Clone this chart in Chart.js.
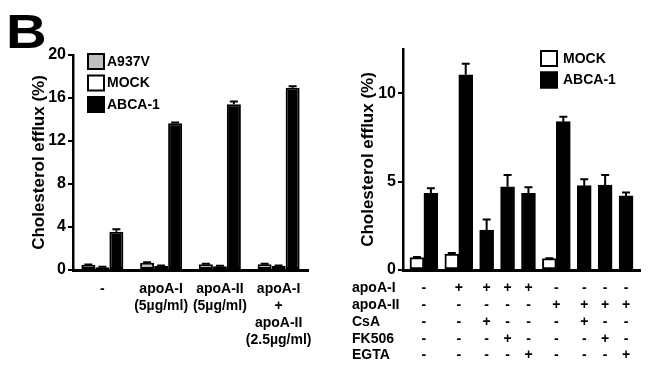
<!DOCTYPE html>
<html>
<head>
<meta charset="utf-8">
<script src="https://cdn.jsdelivr.net/npm/chart.js@4.4.1/dist/chart.umd.min.js"></script>
<style>
  html, body { margin: 0; padding: 0; background: #fff; }
  #wrap { position: relative; width: 654px; height: 373px; overflow: hidden; }
  #leftChart { position: absolute; left: 0; top: 0; }
  #rightChart { position: absolute; left: 330px; top: 0; }
  #panelLetter {
    position: absolute; left: 6px; top: 7px;
    font: bold 49px "Liberation Sans", Arial, sans-serif; line-height: 49px;
    transform: scaleX(1.15); transform-origin: left top;
  }
</style>
</head>
<body>
<div id="wrap">
  <canvas id="leftChart" width="330" height="373"></canvas>
  <canvas id="rightChart" width="324" height="373"></canvas>
  <div id="panelLetter">B</div>
</div>
<script>
// ============================================================
// DATA - left panel
// ============================================================

const groupLabels = [
  ["-"],
  ["apoA-I", "(5µg/ml)"],
  ["apoA-II", "(5µg/ml)"],
  ["apoA-I", "+", "apoA-II", "(2.5µg/ml)"]
];
const leftTicks = [0, 4, 8, 12, 16, 20];

const a937vValues = [0.48, 0.68, 0.53, 0.53];
const a937vErrors = [0.04, 0.04, 0.05, 0.04];
const leftMockValues = [0.26, 0.37, 0.35, 0.38];
const leftMockErrors = [0.04, 0.04, 0.05, 0.05];
const leftAbcaValues = [3.56, 13.64, 15.42, 16.95];
const leftAbcaErrors = [0.22, 0.08, 0.25, 0.15];

// ============================================================
// DATA - right panel
// ============================================================

const rowLabels = ["apoA-I", "apoA-II", "CsA", "FK506", "EGTA"];
const apoAIRow  = ["-", "+", "+", "+", "+", "-", "-", "-", "-"];
const apoAIIRow = ["-", "-", "-", "-", "-", "+", "+", "+", "+"];
const csaRow    = ["-", "-", "+", "-", "-", "-", "+", "-", "-"];
const fk506Row  = ["-", "-", "-", "+", "-", "-", "-", "+", "-"];
const egtaRow   = ["-", "-", "-", "-", "+", "-", "-", "-", "+"];
const rightTicks = [0, 5, 10];

const rightMockValues = [0.70, 0.90, null, null, null, 0.64, null, null, null];
const rightMockErrors = [0.04, 0.06, null, null, null, 0.03, null, null, null];
const rightAbcaValues = [4.34, 11.04, 2.26, 4.71, 4.34, 8.39, 4.77, 4.81, 4.19];
const rightAbcaErrors = [0.28, 0.62, 0.60, 0.66, 0.34, 0.28, 0.36, 0.57, 0.19];

// ============================================================
// SHARED STYLE
// ============================================================

const FONT = '"Liberation Sans", Arial, Helvetica, sans-serif';
Chart.defaults.font.family = FONT;
Chart.defaults.font.weight = "bold";
Chart.defaults.color = "#000";

const errorBarPlugin = {
  id: "errorBars",
  afterDatasetsDraw(chart) {
    const ctx = chart.ctx;
    const yScale = chart.scales.y;
    chart.data.datasets.forEach(function(ds, di) {
      if (!ds.errors) return;
      const meta = chart.getDatasetMeta(di);
      meta.data.forEach(function(bar, i) {
        const raw = ds.data[i];
        const v = raw !== null && typeof raw === "object" ? raw.y : raw;
        const err = ds.errors[i];
        if (v == null || !err) return;
        const yTop = yScale.getPixelForValue(v + err);
        ctx.save();
        ctx.strokeStyle = "#000";
        ctx.lineWidth = 2;
        ctx.beginPath();
        ctx.moveTo(bar.x, bar.y);
        ctx.lineTo(bar.x, yTop);
        ctx.moveTo(bar.x - 4, yTop);
        ctx.lineTo(bar.x + 4, yTop);
        ctx.stroke();
        ctx.restore();
      });
    });
  }
};

const boxLegendPlugin = {
  id: "boxLegend",
  afterDraw(chart, args, opts) {
    const ctx = chart.ctx;
    const area = chart.chartArea;
    ctx.save();
    chart.data.datasets.forEach(function(ds, i) {
      const x = area.left + opts.dx;
      const y = area.top + opts.dy + i * opts.rowGap;
      ctx.fillStyle = ds.backgroundColor;
      ctx.fillRect(x, y, 18, 17);
      ctx.strokeStyle = "#000";
      ctx.lineWidth = 2;
      ctx.strokeRect(x + 1, y + 1, 16, 15);
      ctx.fillStyle = "#000";
      ctx.font = "bold 14px " + FONT;
      ctx.textBaseline = "middle";
      ctx.textAlign = "left";
      ctx.fillText(ds.label, x + 18 + opts.textGap, y + 9);
    });
    ctx.restore();
  }
};

function yAxis(max, ticks, titlePad) {
  return {
    min: 0,
    max: max,
    afterBuildTicks: function(s) { s.ticks = ticks.map(v => ({ value: v })); },
    ticks: { padding: 2, font: { size: 16, weight: "bold" }, color: "#000" },
    grid: { display: true, drawOnChartArea: false, drawTicks: true, tickLength: 5, color: "#000", lineWidth: 2 },
    border: { display: true, color: "#000", width: 2.5 },
    title: {
      display: true, text: "Cholesterol efflux (%)", color: "#000",
      font: { size: 17, weight: "bold" }, padding: { top: titlePad, bottom: 0 }
    },
    afterFit: function(s) { s.width = 73; }
  };
}

// ============================================================
// LEFT PANEL
// ============================================================

new Chart(document.getElementById("leftChart"), {
  type: "bar",
  data: {
    labels: groupLabels,
    datasets: [
      { label: "A937V", data: a937vValues, errors: a937vErrors, backgroundColor: "#c0c0c0" },
      { label: "MOCK", data: leftMockValues, errors: leftMockErrors, backgroundColor: "#ffffff" },
      { label: "ABCA-1", data: leftAbcaValues, errors: leftAbcaErrors, backgroundColor: "#000000" }
    ]
  },
  options: {
    responsive: false,
    animation: false,
    layout: { padding: { top: 55, right: 22, bottom: 0, left: 0 } },
    datasets: {
      bar: { categoryPercentage: 0.715, barPercentage: 1, borderColor: "#000", borderWidth: 2, borderSkipped: false }
    },
    plugins: {
      legend: { display: false },
      tooltip: { enabled: false },
      boxLegend: { dx: 14, dy: -2, rowGap: 21.5, textGap: 2 }
    },
    scales: {
      x: {
        ticks: { autoSkip: false, maxRotation: 0, padding: 11, font: { size: 14, weight: "bold" }, color: "#000" },
        grid: { display: false, drawTicks: false },
        border: { display: true, color: "#000", width: 3 },
        afterFit: function(s) { s.height = 103; }
      },
      y: yAxis(20, leftTicks, 29)
    }
  },
  plugins: [errorBarPlugin, boxLegendPlugin]
});

// ============================================================
// RIGHT PANEL
// bars sit side by side in a pair, gaps of half a bar between treatments
// ============================================================

const signRows = [apoAIRow, apoAIIRow, csaRow, fk506Row, egtaRow];
const GAP = 0.5;

const mockPoints = [], mockErr = [], abcaPoints = [], abcaErr = [], labelCenters = [];
let cursor = GAP;
rightAbcaValues.forEach(function(v, i) {
  if (rightMockValues[i] !== null) {
    mockPoints.push({ x: cursor + 0.5, y: rightMockValues[i] });
    mockErr.push(rightMockErrors[i]);
    abcaPoints.push({ x: cursor + 1.5, y: v });
    abcaErr.push(rightAbcaErrors[i]);
    labelCenters.push(cursor + 1);
    cursor += 2;
  } else {
    abcaPoints.push({ x: cursor + 0.5, y: v });
    abcaErr.push(rightAbcaErrors[i]);
    labelCenters.push(cursor + 0.5);
    cursor += 1;
  }
  cursor += GAP;
});
const totalUnits = cursor;

const rowLabelPlugin = {
  id: "rowLabels",
  afterDraw(chart) {
    const ctx = chart.ctx;
    const xs = chart.scales.x;
    const lineH = 14 * 1.2;
    ctx.save();
    ctx.fillStyle = "#000";
    ctx.font = "bold 14px " + FONT;
    ctx.textAlign = "left";
    ctx.textBaseline = "middle";
    rowLabels.forEach(function(t, i) {
      ctx.fillText(t, chart.chartArea.left - 51, xs.top + 10 + lineH * (i + 0.5));
    });
    ctx.restore();
  }
};

new Chart(document.getElementById("rightChart"), {
  type: "bar",
  data: {
    datasets: [
      { label: "MOCK", data: mockPoints, errors: mockErr, backgroundColor: "#ffffff" },
      { label: "ABCA-1", data: abcaPoints, errors: abcaErr, backgroundColor: "#000000" }
    ]
  },
  options: {
    responsive: false,
    animation: false,
    layout: { padding: { top: 49, right: 14, bottom: 0, left: 0 } },
    datasets: {
      bar: { grouped: false, categoryPercentage: 1, barPercentage: 1, borderColor: "#000", borderWidth: 2, borderSkipped: false }
    },
    plugins: {
      legend: { display: false },
      tooltip: { enabled: false },
      boxLegend: { dx: 137, dy: 1, rowGap: 21.5, textGap: 5 }
    },
    scales: {
      x: {
        type: "linear",
        min: 0,
        max: totalUnits,
        offset: false,
        afterBuildTicks: function(s) { s.ticks = labelCenters.map(v => ({ value: v })); },
        ticks: {
          autoSkip: false, maxRotation: 0, padding: 10,
          font: { size: 14, weight: "bold" }, color: "#000",
          callback: function(value, index) { return signRows.map(r => r[index]); }
        },
        grid: { display: false, drawTicks: false },
        border: { display: true, color: "#000", width: 3 },
        afterFit: function(s) { s.height = 103; }
      },
      y: yAxis(12.5, rightTicks, 28)
    }
  },
  plugins: [errorBarPlugin, boxLegendPlugin, rowLabelPlugin]
});
</script>
</body>
</html>
